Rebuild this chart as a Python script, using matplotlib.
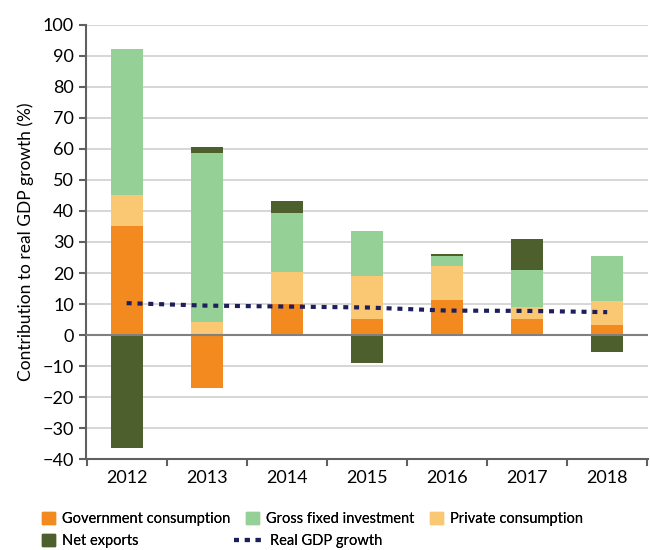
import numpy as np
import matplotlib
matplotlib.use('Agg')
import matplotlib.pyplot as plt
from matplotlib.patches import Patch
from matplotlib.lines import Line2D

plt.rcParams['font.family'] = ['Lato', 'DejaVu Sans']

years = ['2012', '2013', '2014', '2015', '2016', '2017', '2018']
gov = [35.3, -17.1, 10.0, 5.3, 11.3, 5.2, 3.3]
private = [9.9, 4.3, 10.4, 13.7, 11.1, 3.8, 7.8]
investment = [47.1, 54.4, 18.8, 14.5, 3.1, 12.0, 14.5]
net_exports = [-36.5, 1.9, 4.1, -9.0, 0.5, 10.0, -5.3]
gdp = [10.3, 9.5, 9.2, 8.9, 7.9, 7.8, 7.4]

c_gov = '#F28A1F'
c_inv = '#95D096'
c_priv = '#FAC873'
c_net = '#4D5F2C'
c_line = '#1E1E5C'

fig = plt.figure(figsize=(6.5, 5.5), dpi=100)
ax = fig.add_axes([0.132, 0.165, 0.865, 0.79])

x = np.arange(len(years))
pos_base = np.zeros(len(years))
neg_base = np.zeros(len(years))
for vals, col in [(gov, c_gov), (private, c_priv), (investment, c_inv), (net_exports, c_net)]:
    v = np.array(vals)
    base = np.where(v >= 0, pos_base, neg_base)
    ax.bar(x, v, 0.4, bottom=base, color=col, zorder=3)
    pos_base = pos_base + np.where(v >= 0, v, 0)
    neg_base = neg_base + np.where(v < 0, v, 0)

dots = (0, (1.2, 1.4))
ax.plot(x, gdp, color=c_line, lw=3, ls=dots, zorder=4)

ax.set_ylim(-40, 100)
ax.set_xlim(-0.51, 6.51)
ax.set_yticks(range(-40, 101, 10))
ax.yaxis.grid(True, color='#d0d0d0', lw=1.2, zorder=0)
ax.axhline(0, color='#808080', lw=1.5, zorder=3.5)
ax.set_xticks(x)
ax.set_xticklabels(years, fontsize=13)
ax.set_xticks(np.arange(-0.5, 7, 1), minor=True)
ax.tick_params(axis='x', which='major', length=0, pad=8)
ax.tick_params(axis='x', which='minor', length=5, color='#606060', width=1.5)
ax.tick_params(axis='y', labelsize=13, length=5, color='#606060', width=1.5)
for s in ['top', 'right']:
    ax.spines[s].set_visible(False)
for s in ['left', 'bottom']:
    ax.spines[s].set_color('#606060')
    ax.spines[s].set_linewidth(1.5)
ax.set_ylabel('Contribution to real GDP growth (%)', fontsize=12.5, labelpad=6)

# legend entries placed one by one (pixel positions of the original layout)
W, H = 650, 550
entries = [(Patch(color=c_gov), 'Government consumption', 42, 519, 0.9),
           (Patch(color=c_net), 'Net exports', 42, 541, 0.9),
           (Patch(color=c_inv), 'Gross fixed investment', 246, 519, 0.9),
           (Line2D([0], [0], color=c_line, lw=3, ls=dots), 'Real GDP growth', 234, 541, 2.05),
           (Patch(color=c_priv), 'Private consumption', 430, 519, 0.9)]
for h, lab, px, py, hl in entries:
    leg = fig.legend([h], [lab], loc='center left', bbox_to_anchor=(px / W, 1 - py / H),
                     frameon=False, fontsize=10.5, handlelength=hl, handleheight=0.9,
                     handletextpad=0.45, borderaxespad=0, borderpad=0)
    fig.add_artist(leg)

fig.savefig('out.png', dpi=100)
